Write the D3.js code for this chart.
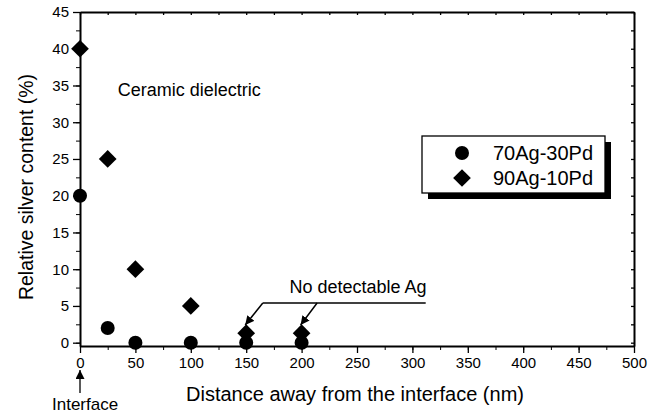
<!DOCTYPE html>
<html>
<head>
<meta charset="utf-8">
<script src="https://cdn.jsdelivr.net/npm/d3@7"></script>
<style>
  body { margin: 0; background: #fff; }
  text { font-family: "Liberation Sans", Arial, sans-serif; fill: #000; }
</style>
</head>
<body>
<div id="chart"></div>
<script>
// data
const distances = [0, 25, 50, 100, 150, 200];
const ag70pd30 = [20, 2, 0, 0, 0, 0];
const ag90pd10 = [40, 25, 10, 5, 1.3, 1.3];
const seriesNames = ["70Ag-30Pd", "90Ag-10Pd"];
const xTicks = [0, 50, 100, 150, 200, 250, 300, 350, 400, 450, 500];
const yTicks = [0, 5, 10, 15, 20, 25, 30, 35, 40, 45];

const W = 657, H = 414;
const margin = { top: 12, right: 23, bottom: 68, left: 80 },
    width = W - margin.left - margin.right,
    height = H - margin.top - margin.bottom;

const svg = d3.select("#chart")
    .append("svg")
    .attr("width", W)
    .attr("height", H)
    .attr("viewBox", [0, 0, W, H]);

const g = svg.append("g")
    .attr("transform", `translate(${margin.left}, ${margin.top})`);

const x = d3.scaleLinear().domain([0, 500]).range([0, width]);
const y = d3.scaleLinear().domain([-0.45, 45]).range([height, 0]);

// axes
const xMinor = d3.range(0, 501, 25);
const yMinor = d3.range(0, 45.1, 2.5);

function styleAxis(sel) {
    sel.select(".domain").attr("stroke-width", 2);
    sel.selectAll(".tick line").attr("stroke-width", 1.3);
    sel.selectAll(".tick text").style("font-size", "15px");
}

// minor ticks first
g.append("g").attr("transform", `translate(0, ${height})`)
    .call(d3.axisBottom(x).tickValues(xMinor).tickSize(4).tickFormat(""))
    .call(s => s.select(".domain").remove());
g.append("g")
    .call(d3.axisLeft(y).tickValues(yMinor).tickSize(4).tickFormat(""))
    .call(s => s.select(".domain").remove());

g.append("g").attr("transform", `translate(0, ${height})`)
    .call(d3.axisBottom(x).tickValues(xTicks).tickSize(7).tickSizeOuter(0).tickPadding(4))
    .call(styleAxis);
g.append("g")
    .call(d3.axisLeft(y).tickValues(yTicks).tickSize(7).tickSizeOuter(0).tickPadding(4))
    .call(styleAxis);

// top and right frame with small inward ticks
g.append("g")
    .call(d3.axisTop(x).tickValues(xMinor).tickSize(-3).tickSizeOuter(0).tickFormat(""))
    .call(styleAxis);
g.append("g").attr("transform", `translate(${width}, 0)`)
    .call(d3.axisRight(y).tickValues(yMinor).tickSize(-3).tickSizeOuter(0).tickFormat(""))
    .call(styleAxis);

// axis titles
svg.append("text")
    .attr("x", 355)
    .attr("y", 401)
    .attr("text-anchor", "middle")
    .style("font-size", "20px")
    .text("Distance away from the interface (nm)");

svg.append("text")
    .attr("transform", `translate(33, 187) rotate(-90)`)
    .attr("text-anchor", "middle")
    .attr("textLength", 226)
    .attr("lengthAdjust", "spacingAndGlyphs")
    .style("font-size", "20px")
    .text("Relative silver content (%)");

// markers
const diamond = d3.symbol().type(d3.symbolDiamond2).size(200);

g.selectAll(".circ")
    .data(distances.map((d, i) => ({ x: d, y: ag70pd30[i] })))
    .join("circle")
    .attr("class", "circ")
    .attr("cx", d => x(d.x))
    .attr("cy", d => y(d.y))
    .attr("r", 7)
    .attr("fill", "#000");

g.selectAll(".diam")
    .data(distances.map((d, i) => ({ x: d, y: ag90pd10[i] })))
    .join("path")
    .attr("class", "diam")
    .attr("transform", d => `translate(${x(d.x)}, ${y(d.y)})`)
    .attr("d", diamond)
    .attr("fill", "#000");

// annotations
g.append("text")
    .attr("x", x(34))
    .attr("y", y(33.6))
    .style("font-size", "18px")
    .text("Ceramic dielectric");

svg.append("defs").append("marker")
    .attr("id", "arrow")
    .attr("viewBox", "0 0 10 10")
    .attr("refX", 10).attr("refY", 5)
    .attr("markerWidth", 9).attr("markerHeight", 9)
    .attr("markerUnits", "userSpaceOnUse")
    .attr("orient", "auto")
    .append("path")
    .attr("d", "M0,0L10,5L0,10z")
    .attr("fill", "#000");

g.append("text")
    .attr("x", x(189))
    .attr("y", y(6.75))
    .style("font-size", "18px")
    .text("No detectable Ag");

const lineY = y(5.4);
g.append("line")
    .attr("x1", x(165)).attr("x2", x(312))
    .attr("y1", lineY).attr("y2", lineY)
    .attr("stroke", "#000").attr("stroke-width", 1.5);

[[165, 150], [214, 200]].forEach(([from, to]) => {
    g.append("line")
        .attr("x1", x(from)).attr("y1", lineY)
        .attr("x2", x(to) - 1).attr("y2", y(2.4))
        .attr("stroke", "#000").attr("stroke-width", 1.5)
        .attr("marker-end", "url(#arrow)");
});

// interface arrow
svg.append("line")
    .attr("x1", margin.left).attr("x2", margin.left)
    .attr("y1", 393).attr("y2", 370)
    .attr("stroke", "#000").attr("stroke-width", 1.3)
    .attr("marker-end", "url(#arrow)");
svg.append("text")
    .attr("x", 52)
    .attr("y", 410)
    .style("font-size", "17px")
    .text("Interface");

// legend
const lg = svg.append("g").attr("transform", "translate(422, 136)");
lg.append("rect").attr("x", 6).attr("y", 6).attr("width", 183).attr("height", 57).attr("fill", "#000");
lg.append("rect").attr("width", 183).attr("height", 57)
    .attr("fill", "#fff").attr("stroke", "#000").attr("stroke-width", 1.3);

seriesNames.forEach((name, i) => {
    const row = lg.append("g").attr("transform", `translate(40, ${17 + i * 25})`);
    if (i === 0) row.append("circle").attr("r", 7).attr("fill", "#000");
    else row.append("path").attr("d", diamond).attr("fill", "#000");
    row.append("text")
        .attr("x", 31)
        .attr("dy", "0.35em")
        .style("font-size", "20px")
        .text(name);
});
</script>
</body>
</html>
